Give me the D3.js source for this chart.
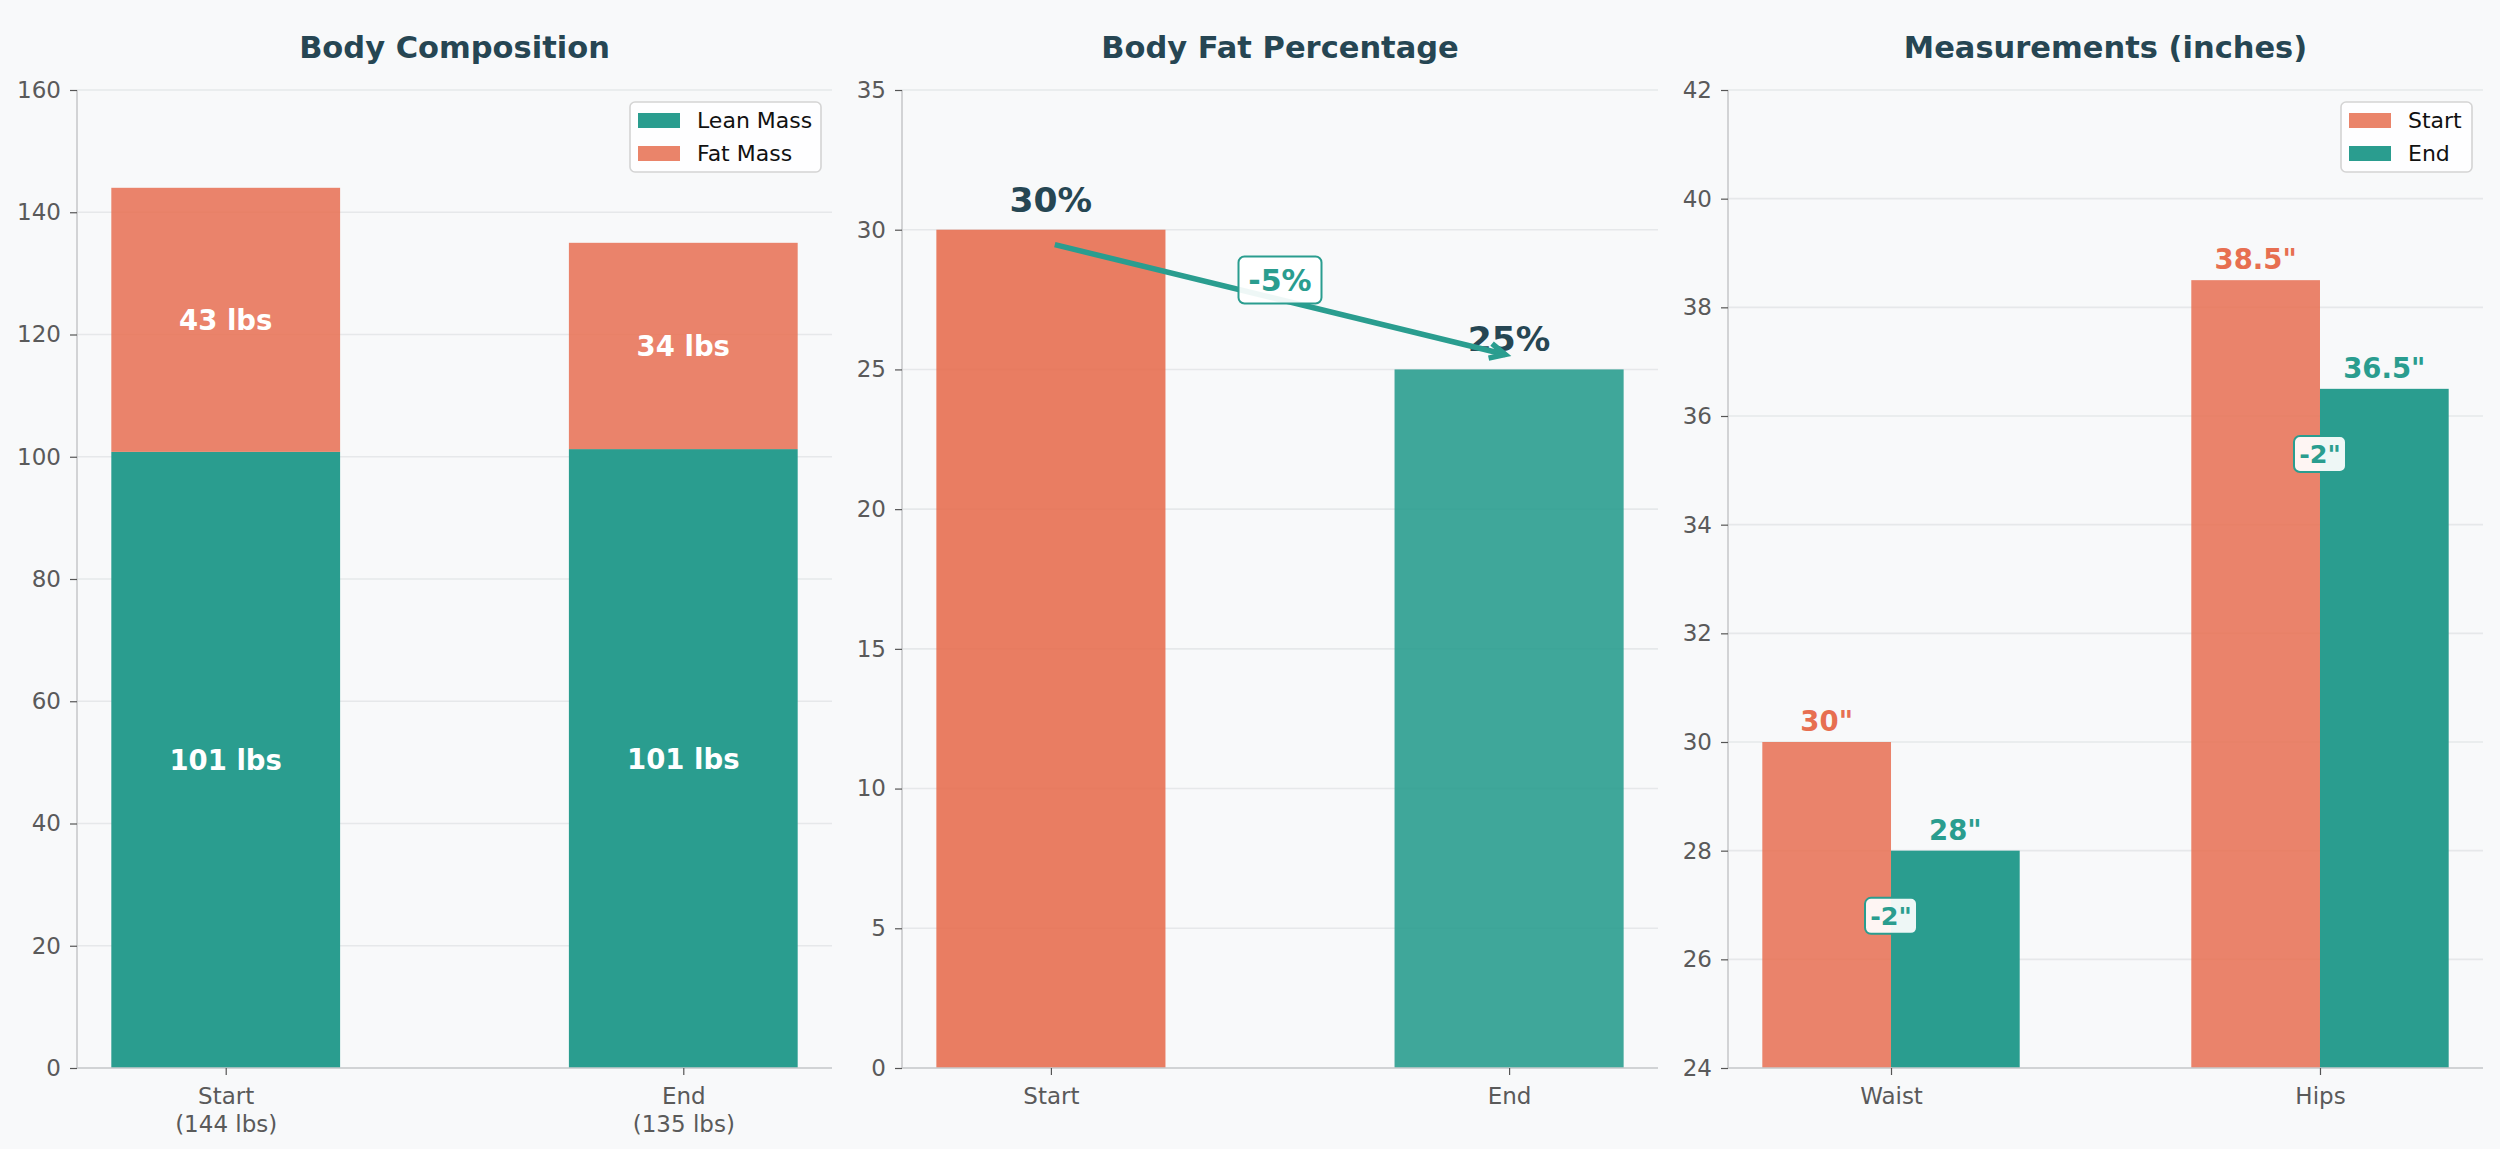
<!DOCTYPE html>
<html>
<head>
<meta charset="utf-8">
<script src="https://cdn.jsdelivr.net/npm/d3@7"></script>
<style>
  body { margin: 0; background: #f8f9fa; }
  text { font-family: "DejaVu Sans", sans-serif; }
</style>
</head>
<body>
<div id="chart"></div>
<script>
// Data
const compCategories = ["Start", "End"];
const totalWeight = [144, 135];
const leanMass = [100.8, 101.25];
const fatMass = [43.2, 33.75];
const compTicks = [0, 20, 40, 60, 80, 100, 120, 140, 160];

const fatCategories = ["Start", "End"];
const bodyFat = [30, 25];
const fatTicks = [0, 5, 10, 15, 20, 25, 30, 35];

const measureCategories = ["Waist", "Hips"];
const measureStart = [30, 38.5];
const measureEnd = [28, 36.5];
const measureTicks = [24, 26, 28, 30, 32, 34, 36, 38, 40, 42];

// colours
const teal = "#2a9d8f";
const coral = "#e76f51";
const navy = "#264653";
const bg = "#f8f9fa";

let width = 2500;
let height = 1149;
let plotTop = 90, plotBottom = 1068;

const svg = d3.select("#chart").append("svg")
    .attr("width", width)
    .attr("height", height);

svg.append("rect").attr("width", width).attr("height", height).attr("fill", bg);

// common frame: gridlines, title
function frame(left, right, xdom, ydom, yticks, xlabels, title) {
    let x = d3.scaleLinear().domain(xdom).range([left, right]);
    let y = d3.scaleLinear().domain(ydom).range([plotBottom, plotTop]);
    let g = svg.append("g");

    g.append("g").selectAll("line")
        .data(yticks)
        .join("line")
        .attr("x1", left).attr("x2", right)
        .attr("y1", d => y(d)).attr("y2", d => y(d))
        .attr("stroke", "#e6e8ea")
        .attr("stroke-width", 1.6);

    g.append("text")
        .attr("x", (left + right) / 2)
        .attr("y", 58)
        .attr("text-anchor", "middle")
        .attr("font-size", 30.5)
        .attr("font-weight", "bold")
        .attr("fill", navy)
        .text(title);

    return {x, y, g, left, right, yticks, xlabels};
}

function axes(f) {
    let yAxis = f.g.append("g")
        .attr("transform", `translate(${f.left},0)`)
        .call(d3.axisLeft(f.y).tickValues(f.yticks).tickSize(7).tickPadding(9).tickFormat(d3.format("d")));
    let xAxis = f.g.append("g")
        .attr("transform", `translate(0,${plotBottom})`)
        .call(d3.axisBottom(f.x).tickValues([0, 1]).tickSize(7).tickPadding(10).tickFormat(""));
    [yAxis, xAxis].forEach(a => {
        a.select(".domain").attr("stroke", "#c8cacc").attr("stroke-width", 1.6);
        a.selectAll(".tick line").attr("stroke", "#555").attr("stroke-width", 1.2);
        a.selectAll(".tick text").attr("font-size", 23).attr("fill", "#5a5a5a").attr("font-family", "DejaVu Sans");
    });
    // spines without tick overhang
    yAxis.select(".domain").attr("d", `M0,${plotTop}V${plotBottom}`);
    xAxis.select(".domain").attr("d", `M${f.left},0H${f.right}`);

    xAxis.selectAll(".tick").each(function(d) {
        let lines = f.xlabels[d];
        let t = d3.select(this).append("text")
            .attr("y", 36)
            .attr("text-anchor", "middle")
            .attr("font-size", 23)
            .attr("fill", "#5a5a5a");
        lines.forEach((s, i) => {
            t.append("tspan").attr("x", 0).attr("dy", i === 0 ? 0 : 27.5).text(s);
        });
    });
}

function legend(f, items) {
    let boxW = items.w, boxH = 70;
    let lx = f.right - 11 - boxW, ly = plotTop + 12;
    let lg = f.g.append("g").attr("transform", `translate(${lx},${ly})`);
    lg.append("rect")
        .attr("width", boxW).attr("height", boxH)
        .attr("rx", 5)
        .attr("fill", "white").attr("fill-opacity", 0.85)
        .attr("stroke", "#d4d4d4").attr("stroke-width", 1.6);
    items.list.forEach((it, i) => {
        lg.append("rect")
            .attr("x", 8).attr("y", 11 + i * 33)
            .attr("width", 42).attr("height", 15)
            .attr("fill", it.color);
        lg.append("text")
            .attr("x", 67).attr("y", 26 + i * 33)
            .attr("font-size", 22)
            .attr("fill", "#111")
            .text(it.label);
    });
}

function labelBox(g, cx, cy, txt, size, w, h) {
    g.append("rect")
        .attr("x", cx - w / 2).attr("y", cy - h / 2)
        .attr("width", w).attr("height", h)
        .attr("rx", 6)
        .attr("fill", "white").attr("fill-opacity", 0.92)
        .attr("stroke", teal).attr("stroke-width", 2);
    g.append("text")
        .attr("x", cx).attr("y", cy)
        .attr("text-anchor", "middle")
        .attr("dominant-baseline", "central")
        .attr("font-size", size)
        .attr("font-weight", "bold")
        .attr("fill", teal)
        .text(txt);
}

//Panel 1: stacked body composition
let p1 = frame(77, 832, [-0.325, 1.325], [0, 160], compTicks,
    compCategories.map((c, i) => [c, `(${totalWeight[i]} lbs)`]), "Body Composition");
let bw = 0.5;
compCategories.forEach((c, i) => {
    let x0 = p1.x(i - bw / 2), x1 = p1.x(i + bw / 2);
    p1.g.append("rect")
        .attr("x", x0).attr("width", x1 - x0)
        .attr("y", p1.y(leanMass[i])).attr("height", p1.y(0) - p1.y(leanMass[i]))
        .attr("fill", teal);
    p1.g.append("rect")
        .attr("x", x0).attr("width", x1 - x0)
        .attr("y", p1.y(leanMass[i] + fatMass[i])).attr("height", p1.y(leanMass[i]) - p1.y(leanMass[i] + fatMass[i]))
        .attr("fill", coral).attr("fill-opacity", 0.85);
    [[leanMass[i] / 2, leanMass[i]], [leanMass[i] + fatMass[i] / 2, fatMass[i]]].forEach(([pos, v]) => {
        p1.g.append("text")
            .attr("x", p1.x(i)).attr("y", p1.y(pos))
            .attr("text-anchor", "middle")
            .attr("dominant-baseline", "central")
            .attr("font-size", 27.5)
            .attr("font-weight", "bold")
            .attr("fill", "white")
            .text(Math.round(v) + " lbs");
    });
});
axes(p1);
legend(p1, {w: 191, list: [{label: "Lean Mass", color: teal}, {label: "Fat Mass", color: "#ea846a"}]});

//Panel 2: body fat %
let p2 = frame(902, 1658, [-0.325, 1.325], [0, 35], fatTicks,
    fatCategories.map(c => [c]), "Body Fat Percentage");
let fatColors = [coral, teal];
bodyFat.forEach((v, i) => {
    let x0 = p2.x(i - bw / 2), x1 = p2.x(i + bw / 2);
    p2.g.append("rect")
        .attr("x", x0).attr("width", x1 - x0)
        .attr("y", p2.y(v)).attr("height", p2.y(0) - p2.y(v))
        .attr("fill", fatColors[i]).attr("fill-opacity", 0.9);
});
axes(p2);
bodyFat.forEach((v, i) => {
    p2.g.append("text")
        .attr("x", p2.x(i)).attr("y", p2.y(v) - 18)
        .attr("text-anchor", "middle")
        .attr("font-size", 34.5)
        .attr("font-weight", "bold")
        .attr("fill", navy)
        .text(v + "%");
});
// arrow from start to end
let ax0 = p2.x(0), ay0 = p2.y(bodyFat[0] - 0.5);
let ax1 = p2.x(1), ay1 = p2.y(bodyFat[1] + 0.5);
let ang = Math.atan2(ay1 - ay0, ax1 - ax0);
let shrink = 4;
ax0 += shrink * Math.cos(ang); ay0 += shrink * Math.sin(ang);
ax1 -= shrink * Math.cos(ang); ay1 -= shrink * Math.sin(ang);
p2.g.append("line")
    .attr("x1", ax0).attr("y1", ay0).attr("x2", ax1).attr("y2", ay1)
    .attr("stroke", teal).attr("stroke-width", 5.5);
let hl = 17, ha = 0.45;
p2.g.append("path")
    .attr("d", `M${ax1 - hl * Math.cos(ang - ha)},${ay1 - hl * Math.sin(ang - ha)}L${ax1},${ay1}L${ax1 - hl * Math.cos(ang + ha)},${ay1 - hl * Math.sin(ang + ha)}`)
    .attr("fill", "none")
    .attr("stroke", teal).attr("stroke-width", 5.5)
    .attr("stroke-linejoin", "miter");
labelBox(p2.g, p2.x(0.5), p2.y(28.2), `${bodyFat[1] - bodyFat[0]}%`, 30, 83, 47);

//Panel 3: measurements grouped
let p3 = frame(1728, 2483, [-0.38, 1.38], [24, 42], measureTicks,
    measureCategories.map(c => [c]), "Measurements (inches)");
let gw = 0.3;
measureCategories.forEach((c, i) => {
    [[measureStart[i], -gw, coral, 0.85], [measureEnd[i], 0, teal, 1]].forEach(([v, off, col, op]) => {
        let x0 = p3.x(i + off), x1 = p3.x(i + off + gw);
        p3.g.append("rect")
            .attr("x", x0).attr("width", x1 - x0)
            .attr("y", p3.y(v)).attr("height", p3.y(24) - p3.y(v))
            .attr("fill", col).attr("fill-opacity", op);
        p3.g.append("text")
            .attr("x", (x0 + x1) / 2).attr("y", p3.y(v) - 11)
            .attr("text-anchor", "middle")
            .attr("font-size", 27.5)
            .attr("font-weight", "bold")
            .attr("fill", col)
            .text(v + '"');
    });
});
axes(p3);
measureCategories.forEach((c, i) => {
    labelBox(p3.g, p3.x(i), p3.y(measureEnd[i] - 1.2), `${measureEnd[i] - measureStart[i]}"`, 25.5, 52, 36);
});
legend(p3, {w: 131, list: [{label: "Start", color: "#ea846a"}, {label: "End", color: teal}]});
</script>
</body>
</html>
